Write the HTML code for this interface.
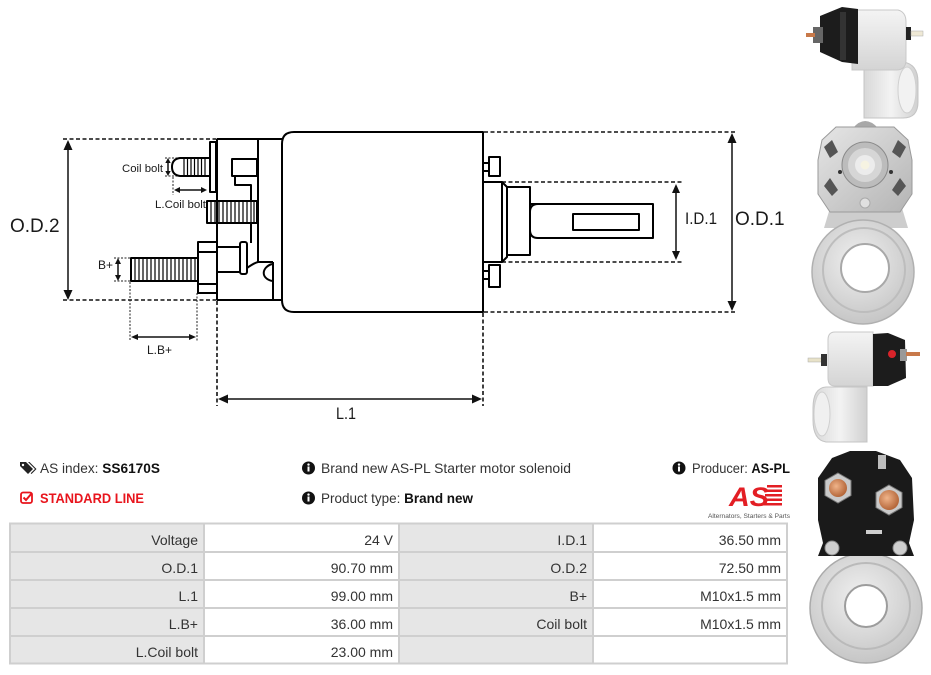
<!DOCTYPE html>
<html><head><meta charset="utf-8">
<style>
html,body{margin:0;padding:0;background:#fff;}
body{width:931px;height:675px;overflow:hidden;}
svg{display:block;}
</style></head><body>
<svg width="931" height="675" viewBox="0 0 931 675" xmlns="http://www.w3.org/2000/svg" font-family="'Liberation Sans', Arial, sans-serif">
<defs>
 <linearGradient id="gw" x1="0" y1="0" x2="0" y2="1"><stop offset="0" stop-color="#f4f4f4"/><stop offset="1" stop-color="#d4d4d4"/></linearGradient>
 <linearGradient id="gwh" x1="0" y1="0" x2="1" y2="0"><stop offset="0" stop-color="#d8d8d8"/><stop offset="0.5" stop-color="#f3f3f3"/><stop offset="1" stop-color="#d0d0d0"/></linearGradient>
 <linearGradient id="gm" x1="0" y1="0" x2="1" y2="1"><stop offset="0" stop-color="#e6e6e6"/><stop offset="1" stop-color="#b4b4b4"/></linearGradient>
 <radialGradient id="gr" cx="0.45" cy="0.4" r="0.6"><stop offset="0" stop-color="#f0f0f0"/><stop offset="1" stop-color="#c6c6c6"/></radialGradient>
 <radialGradient id="cu" cx="0.4" cy="0.4" r="0.6"><stop offset="0" stop-color="#f0b48a"/><stop offset="1" stop-color="#b5673a"/></radialGradient>
</defs>

<!-- ================= DIAGRAM ================= -->
<g fill="none" stroke="#111" stroke-width="1.6" stroke-dasharray="4 2.5">
 <line x1="63" y1="139" x2="217" y2="139"/>
 <line x1="63" y1="300" x2="217" y2="300"/>
 <line x1="484" y1="132" x2="736" y2="132"/>
 <line x1="484" y1="312" x2="736" y2="312"/>
 <line x1="502" y1="182" x2="682" y2="182"/>
 <line x1="502" y1="262" x2="682" y2="262"/>
 <line x1="217" y1="301" x2="217" y2="406"/>
 <line x1="483" y1="313" x2="483" y2="406"/>
</g>
<g fill="none" stroke="#222" stroke-width="1" stroke-dasharray="2 1.5">
 <line x1="130" y1="282" x2="130" y2="341"/>
 <line x1="197" y1="293" x2="197" y2="341"/>
 <line x1="165" y1="158" x2="180" y2="158"/>
 <line x1="165" y1="176" x2="180" y2="176"/>
 <line x1="173" y1="177" x2="173" y2="195"/>
 <line x1="114" y1="258" x2="131" y2="258"/>
 <line x1="114" y1="281" x2="131" y2="281"/>
</g>
<g stroke="#111" stroke-width="1.5" fill="none">
 <line x1="68" y1="147" x2="68" y2="293"/>
 <line x1="732" y1="140" x2="732" y2="304"/>
 <line x1="676" y1="190" x2="676" y2="254"/>
 <line x1="225" y1="399" x2="475" y2="399"/>
 <line x1="136" y1="337" x2="191" y2="337"/>
 <line x1="178" y1="190" x2="203" y2="190"/>
 <line x1="168" y1="161" x2="168" y2="173"/>
 <line x1="118" y1="262" x2="118" y2="277"/>
</g>
<g fill="#111">
 <polygon points="68,140 63.5,150 72.5,150"/><polygon points="68,300 63.5,290 72.5,290"/>
 <polygon points="732,133 727.5,143 736.5,143"/><polygon points="732,311 727.5,301 736.5,301"/>
 <polygon points="676,184 672,193 680,193"/><polygon points="676,260 672,251 680,251"/>
 <polygon points="218,399 228,394.5 228,403.5"/><polygon points="482,399 472,394.5 472,403.5"/>
 <polygon points="131,337 138,334 138,340"/><polygon points="196,337 189,334 189,340"/>
 <polygon points="174,190 180,187 180,193"/><polygon points="207,190 201,187 201,193"/>
 <polygon points="168,158 165.3,163 170.7,163"/><polygon points="168,176 165.3,171 170.7,171"/>
 <polygon points="118,258 115,264 121,264"/><polygon points="118,281 115,275 121,275"/>
</g>

<g fill="none" stroke="#000" stroke-width="2" stroke-linejoin="round">
 <path d="M294 132 H483 V312 H294 Q282 312 282 300 V144 Q282 132 294 132 Z"/>
 <line x1="217" y1="139" x2="282" y2="139"/>
 <line x1="217" y1="300" x2="282" y2="300"/>
 <line x1="217" y1="139" x2="217" y2="300"/>
 <line x1="258" y1="139" x2="258" y2="262"/>
 <line x1="258" y1="262" x2="273" y2="262"/>
 <line x1="273" y1="262" x2="273" y2="300"/>
 <path d="M272 264 C262 267 260 278 272 281"/>
 <path d="M247 268 Q254 263 258 262"/>
 <rect x="232" y="159" width="25" height="17"/>
 <polyline points="235,176 235,185 251,185 251,201"/>
 <line x1="251" y1="223" x2="251" y2="243"/>
 <rect x="210" y="142" width="6" height="50"/>
 <path d="M180 158 H210 V176 H180 Q172 175 172 167 Q172 159 180 158 Z"/>
 <rect x="207" y="201" width="50" height="22"/>
 <rect x="131" y="258" width="67" height="23"/>
 <rect x="198" y="242" width="19" height="51"/>
 <line x1="198" y1="252" x2="217" y2="252"/>
 <line x1="198" y1="284" x2="217" y2="284"/>
 <rect x="217" y="247" width="23" height="25"/>
 <rect x="240" y="242" width="7" height="32" rx="2"/>
 <rect x="483" y="163" width="6" height="8"/>
 <rect x="489" y="157" width="11" height="19"/>
 <rect x="483" y="271" width="6" height="8"/>
 <rect x="489" y="265" width="11" height="22"/>
 <rect x="483" y="182" width="19" height="80"/>
 <path d="M502 182 L507 187 V257 L502 262"/>
 <rect x="507" y="187" width="23" height="68"/>
 <path d="M530 204 H653 V238 H538 Q530 238 530 230 V212 Q530 204 538 204"/>
 <rect x="573" y="214" width="66" height="16"/>
</g>
<g stroke="#000" stroke-width="1.2">
 <line x1="184" y1="158" x2="184" y2="176"/><line x1="187.5" y1="158" x2="187.5" y2="176"/><line x1="191" y1="158" x2="191" y2="176"/><line x1="194.5" y1="158" x2="194.5" y2="176"/><line x1="198" y1="158" x2="198" y2="176"/><line x1="201.5" y1="158" x2="201.5" y2="176"/><line x1="205" y1="158" x2="205" y2="176"/>
 <line x1="211" y1="201" x2="211" y2="223"/><line x1="215" y1="201" x2="215" y2="223"/><line x1="219" y1="201" x2="219" y2="223"/><line x1="223" y1="201" x2="223" y2="223"/><line x1="227" y1="201" x2="227" y2="223"/><line x1="231" y1="201" x2="231" y2="223"/><line x1="235" y1="201" x2="235" y2="223"/><line x1="239" y1="201" x2="239" y2="223"/><line x1="243" y1="201" x2="243" y2="223"/><line x1="247" y1="201" x2="247" y2="223"/><line x1="251" y1="201" x2="251" y2="223"/><line x1="254" y1="201" x2="254" y2="223"/>
 <line x1="135" y1="258" x2="135" y2="281"/><line x1="139" y1="258" x2="139" y2="281"/><line x1="143" y1="258" x2="143" y2="281"/><line x1="147" y1="258" x2="147" y2="281"/><line x1="151" y1="258" x2="151" y2="281"/><line x1="155" y1="258" x2="155" y2="281"/><line x1="159" y1="258" x2="159" y2="281"/><line x1="163" y1="258" x2="163" y2="281"/><line x1="167" y1="258" x2="167" y2="281"/><line x1="171" y1="258" x2="171" y2="281"/><line x1="175" y1="258" x2="175" y2="281"/><line x1="179" y1="258" x2="179" y2="281"/><line x1="183" y1="258" x2="183" y2="281"/><line x1="187" y1="258" x2="187" y2="281"/><line x1="191" y1="258" x2="191" y2="281"/><line x1="195" y1="258" x2="195" y2="281"/>
</g>
<g fill="#1a1a1a">
 <text x="10" y="232" font-size="19">O.D.2</text>
 <text x="735" y="225" font-size="19">O.D.1</text>
 <text x="685" y="224" font-size="17" textLength="32" lengthAdjust="spacingAndGlyphs">I.D.1</text>
 <text x="336" y="419" font-size="17" textLength="20" lengthAdjust="spacingAndGlyphs">L.1</text>
 <text x="122" y="172" font-size="11" textLength="41" lengthAdjust="spacingAndGlyphs">Coil bolt</text>
 <text x="155" y="208" font-size="11" textLength="51" lengthAdjust="spacingAndGlyphs">L.Coil bolt</text>
 <text x="98" y="269" font-size="12">B+</text>
 <text x="147" y="354" font-size="12" textLength="25" lengthAdjust="spacingAndGlyphs">L.B+</text>
</g>

<!-- ================= INFO ROWS ================= -->
<g fill="#222">
 <path d="M20 462 H26 L33 469 L28 474 L20 466 Z"/>
 <path d="M28 462 H29.5 L36.5 469 L31.5 474 L30.7 473.2 L35 469 Z"/>
 <circle cx="23" cy="465" r="1.2" fill="#fff"/>
</g>
<text x="40" y="473" font-size="14" fill="#333" textLength="120" lengthAdjust="spacingAndGlyphs">AS index: <tspan font-weight="bold" fill="#111">SS6170S</tspan></text>
<g fill="none" stroke="#e8141c" stroke-width="1.8">
 <rect x="21" y="492.5" width="11" height="10.5" rx="2"/>
 <path d="M23.5 497.5 L26 500 L32 493" stroke-width="2"/>
</g>
<text x="40" y="503" font-size="14" font-weight="bold" fill="#e8141c" textLength="104" lengthAdjust="spacingAndGlyphs">STANDARD LINE</text>

<g>
 <circle cx="308.5" cy="468" r="6.5" fill="#111"/>
 <circle cx="308.5" cy="464.6" r="1.2" fill="#fff"/>
 <rect x="307.5" y="466.5" width="2" height="5" fill="#fff"/>
 <circle cx="308.5" cy="498" r="6.5" fill="#111"/>
 <circle cx="308.5" cy="494.6" r="1.2" fill="#fff"/>
 <rect x="307.5" y="496.5" width="2" height="5" fill="#fff"/>
 <circle cx="679" cy="468" r="6.5" fill="#111"/>
 <circle cx="679" cy="464.6" r="1.2" fill="#fff"/>
 <rect x="678" y="466.5" width="2" height="5" fill="#fff"/>
</g>
<text x="321" y="473" font-size="14" fill="#333" textLength="250" lengthAdjust="spacingAndGlyphs">Brand new AS-PL Starter motor solenoid</text>
<text x="321" y="503" font-size="14" fill="#333" textLength="152" lengthAdjust="spacingAndGlyphs">Product type: <tspan font-weight="bold" fill="#111">Brand new</tspan></text>
<text x="692" y="473" font-size="14" fill="#333" textLength="98" lengthAdjust="spacingAndGlyphs">Producer: <tspan font-weight="bold" fill="#111">AS-PL</tspan></text>

<g>
 <text x="729" y="506" font-size="27" font-weight="bold" font-style="italic" fill="#e31e24" textLength="40" lengthAdjust="spacingAndGlyphs">AS</text>
 <g fill="#e31e24">
  <rect x="767" y="485" width="15" height="2.5"/>
  <rect x="766" y="489.5" width="16" height="2.5"/>
  <rect x="765" y="494" width="17" height="2.5"/>
  <rect x="764" y="498.5" width="18" height="2.5"/>
  <rect x="763" y="503" width="19" height="2.5"/>
 </g>
 <text x="708" y="518" font-size="6" fill="#555" textLength="82" lengthAdjust="spacingAndGlyphs">Alternators, Starters &amp; Parts</text>
</g>

<!-- ================= TABLE ================= -->
<g>
 <rect x="10" y="523" width="194" height="141" fill="#e6e6e6"/>
 <rect x="399" y="523" width="194" height="141" fill="#e6e6e6"/>
 <rect x="204" y="523" width="195" height="141" fill="#fff"/>
 <rect x="593" y="523" width="194" height="141" fill="#fff"/>
 <g stroke="#cfcfcf" stroke-width="2" fill="none">
  <rect x="10" y="523.5" width="777" height="140"/>
  <line x1="10" y1="552" x2="787" y2="552"/>
  <line x1="10" y1="580" x2="787" y2="580"/>
  <line x1="10" y1="608" x2="787" y2="608"/>
  <line x1="10" y1="636" x2="787" y2="636"/>
  <line x1="204" y1="523" x2="204" y2="664"/>
  <line x1="399" y1="523" x2="399" y2="664"/>
  <line x1="593" y1="523" x2="593" y2="664"/>
 </g>
 <g font-size="14" fill="#333" text-anchor="end">
  <text x="198" y="545">Voltage</text><text x="393" y="545">24 V</text><text x="587" y="545">I.D.1</text><text x="781" y="545">36.50 mm</text>
  <text x="198" y="573">O.D.1</text><text x="393" y="573">90.70 mm</text><text x="587" y="573">O.D.2</text><text x="781" y="573">72.50 mm</text>
  <text x="198" y="601">L.1</text><text x="393" y="601">99.00 mm</text><text x="587" y="601">B+</text><text x="781" y="601">M10x1.5 mm</text>
  <text x="198" y="629">L.B+</text><text x="393" y="629">36.00 mm</text><text x="587" y="629">Coil bolt</text><text x="781" y="629">M10x1.5 mm</text>
  <text x="198" y="657">L.Coil bolt</text><text x="393" y="657">23.00 mm</text>
 </g>
</g>

<!-- ================= PHOTOS ================= -->
<g>
 <path d="M864 62 H903 Q918 64 918 82 V102 Q918 118 903 118 H864 Z" fill="url(#gwh)" stroke="#c4c4c4"/>
 <ellipse cx="907" cy="90" rx="9" ry="23" fill="#f2f2f2" stroke="#d0d0d0"/>
 <path d="M852 10 H898 Q906 12 906 22 V60 Q906 70 896 70 H852 Z" fill="url(#gw)" stroke="#c8c8c8"/>
 <path d="M820 16 L842 7 L858 9 L858 64 L842 62 L820 52 Z" fill="#1c1c1c"/>
 <rect x="840" y="12" width="6" height="48" fill="#333"/>
 <rect x="813" y="27" width="10" height="16" fill="#666"/>
 <rect x="806" y="33" width="9" height="4" fill="#c8794a"/>
 <rect x="906" y="27" width="5" height="13" fill="#222"/>
 <rect x="911" y="31" width="12" height="5" fill="#efe9d6" stroke="#aaa" stroke-width="0.5"/>
</g>
<g>
 <path d="M853 128 Q865 114 878 128 Z" fill="#a8a8a8"/>
 <path d="M830 208 L902 208 L908 228 L824 228 Z" fill="#cdcdcd"/>
 <ellipse cx="863" cy="272" rx="51" ry="52" fill="url(#gr)" stroke="#b0b0b0" stroke-width="1.5"/>
 <ellipse cx="864" cy="270" rx="41" ry="42" fill="none" stroke="#bdbdbd" stroke-width="2"/>
 <circle cx="865" cy="268" r="24" fill="#fff" stroke="#a8a8a8" stroke-width="2"/>
 <polygon points="836,127 894,127 908,140 912,160 912,194 900,212 830,212 818,194 818,160 822,140" fill="url(#gm)" stroke="#9a9a9a"/>
 <g fill="#555">
  <polygon points="824,147 832,140 838,152 830,158"/>
  <polygon points="906,147 898,140 892,152 900,158"/>
  <polygon points="824,186 830,178 838,190 832,196"/>
  <polygon points="906,186 900,178 892,190 898,196"/>
 </g>
 <circle cx="865" cy="165" r="23" fill="#bcbcbc" stroke="#8a8a8a"/>
 <circle cx="865" cy="165" r="17" fill="#d6d6d6"/>
 <circle cx="865" cy="165" r="10" fill="#ececec"/>
 <circle cx="865" cy="165" r="4.5" fill="#f6f3e2"/>
 <circle cx="840" cy="172" r="2" fill="#333"/>
 <circle cx="891" cy="172" r="2" fill="#333"/>
 <circle cx="865" cy="203" r="5" fill="#e0e0e0" stroke="#aaa"/>
</g>
<g>
 <path d="M826 387 H867 V442 H826 Q813 440 813 420 V408 Q813 388 826 387 Z" fill="url(#gwh)" stroke="#c4c4c4"/>
 <ellipse cx="822" cy="414" rx="8" ry="22" fill="#f0f0f0" stroke="#d0d0d0"/>
 <path d="M835 332 H873 V386 H835 Q828 386 828 378 V340 Q828 332 835 332 Z" fill="url(#gw)" stroke="#c8c8c8"/>
 <path d="M873 334 L888 333 L905 340 L906 378 L888 386 L873 386 Z" fill="#1c1c1c"/>
 <circle cx="892" cy="354" r="4" fill="#d8232a"/>
 <rect x="900" y="349" width="7" height="12" fill="#999"/>
 <rect x="906" y="352" width="14" height="4" fill="#c8794a"/>
 <rect x="808" y="358" width="14" height="4" fill="#e8e2c8" stroke="#aaa" stroke-width="0.5"/>
 <rect x="821" y="354" width="6" height="12" fill="#333"/>
</g>
<g>
 <ellipse cx="866" cy="608" rx="56" ry="55" fill="url(#gr)" stroke="#aaa" stroke-width="1.5"/>
 <ellipse cx="866" cy="606" rx="44" ry="43" fill="none" stroke="#bababa" stroke-width="2"/>
 <circle cx="866" cy="606" r="21" fill="#fff" stroke="#9c9c9c" stroke-width="2"/>
 <path d="M832 458 L850 451 L876 451 L900 460 L912 478 L914 520 L909 543 L914 556 L818 556 L823 543 L818 520 L818 478 Z" fill="#1a1a1a"/>
 <circle cx="832" cy="548" r="7" fill="#cfcfcf" stroke="#888"/>
 <circle cx="900" cy="548" r="7" fill="#cfcfcf" stroke="#888"/>
 <polygon points="838,473 851,480.5 851,495.5 838,503 825,495.5 825,480.5" fill="#cacaca" stroke="#777"/>
 <circle cx="838" cy="488" r="9" fill="url(#cu)"/>
 <polygon points="889,485 902,492.5 902,507.5 889,515 876,507.5 876,492.5" fill="#cacaca" stroke="#777"/>
 <circle cx="889" cy="500" r="10" fill="url(#cu)"/>
 <rect x="878" y="455" width="8" height="14" fill="#bdbdbd"/>
 <rect x="866" y="530" width="16" height="4" fill="#cfcfcf"/>
</g>
</svg>
</body></html>
